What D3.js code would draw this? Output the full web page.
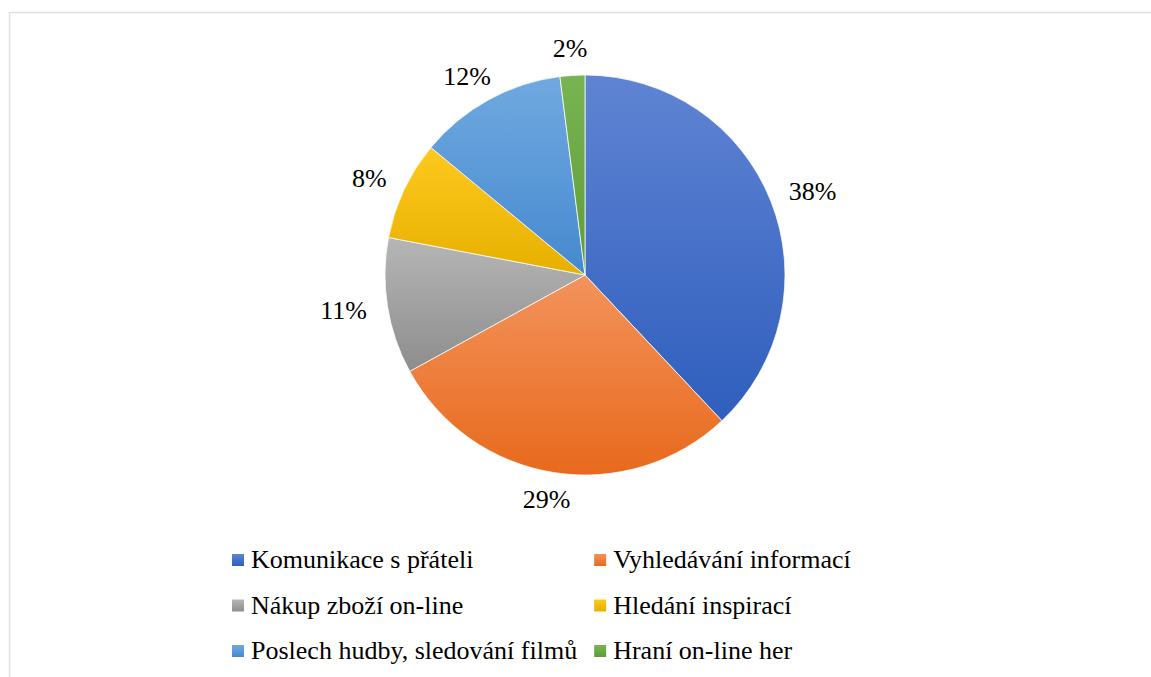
<!DOCTYPE html>
<html>
<head>
<meta charset="utf-8">
<script src="https://cdn.jsdelivr.net/npm/d3@7"></script>
</head>
<body style="margin:0;background:#fff">
<script>
const categories = [
  'Komunikace s přáteli',
  'Vyhledávání informací',
  'Nákup zboží on-line',
  'Hledání inspirací',
  'Poslech hudby, sledování filmů',
  'Hraní on-line her'
]
const values = [38, 29, 11, 8, 12, 2]
// light (top) and dark (bottom) end of each slice gradient
const topColors = ['#5f84d3', '#f3935c', '#b6b6b6', '#ffc81e', '#70a9e0', '#78b552']
const bottomColors = ['#2f5ebd', '#e8691c', '#8d8d8d', '#e6b000', '#4689cf', '#5e9c38']

const fullWidth = 1151
const fullHeight = 677
const cx = 585
const cy = 275
const radius = 200
const fontSize = 26
const serif = '"Liberation Serif"'

function draw() {
  const svg = d3.select('body')
    .append('svg')
    .attr('width', fullWidth)
    .attr('height', fullHeight)
    .style('display', 'block')
    .style('font-family', serif)

  // chart area frame
  svg.append('rect')
    .attr('x', 9.5)
    .attr('y', 12.5)
    .attr('width', 1160)
    .attr('height', 700)
    .attr('fill', '#fff')
    .attr('stroke', '#dde1e7')
    .attr('stroke-width', 1.5)

  const defs = svg.append('defs')
  categories.forEach((c, i) => {
    const grad = defs.append('linearGradient')
      .attr('id', 'grad' + i)
      .attr('x1', 0).attr('y1', 0)
      .attr('x2', 0).attr('y2', 1)
    grad.append('stop').attr('offset', '0%').attr('stop-color', topColors[i])
    grad.append('stop').attr('offset', '100%').attr('stop-color', bottomColors[i])
  })

  const pie = d3.pie().sort(null).value(d => d)
  const arcs = pie(values)
  const arc = d3.arc().innerRadius(0).outerRadius(radius)

  svg.append('g')
    .attr('transform', `translate(${cx},${cy})`)
    .selectAll('.slice')
    .data(arcs)
    .enter().append('path')
    .attr('class', 'slice')
    .attr('d', arc)
    .attr('fill', (d, i) => `url(#grad${i})`)
    .attr('stroke', '#fff')
    .attr('stroke-width', 0.75)

  // ---------------Data labels (outside end)---------------
  const pad = 15
  const labels = svg.selectAll('.lbl')
    .data(arcs)
    .enter().append('text')
    .attr('class', 'lbl')
    .attr('font-size', fontSize)
    .style('font-family', serif)
    .attr('text-anchor', 'middle')
    .text(d => d.value + '%')

  labels.each(function (d) {
    const w = this.getComputedTextLength() + 12
    const h = fontSize * 0.92
    const a = (d.startAngle + d.endAngle) / 2
    const dx = Math.sin(a)
    const dy = -Math.cos(a)
    d3.select(this)
      .attr('x', cx + (radius + pad) * dx + dx * w / 2)
      .attr('y', cy + (radius + pad) * dy + dy * h / 2 + fontSize * 0.33)
  })

  // ---------------Legend---------------
  const legendX = 232
  const legendY = 568
  const rowGap = 45.5
  const sq = 12
  const textGap = 19

  const items = svg.selectAll('.item')
    .data(categories)
    .enter().append('text')
    .attr('class', 'item')
    .attr('font-size', fontSize)
    .style('font-family', serif)
    .text(d => d)

  let colW = 0
  items.each(function () {
    colW = Math.max(colW, this.getComputedTextLength())
  })
  colW = colW + textGap + 17

  const colX = i => legendX + (i % 2) * colW
  const rowY = i => legendY + Math.floor(i / 2) * rowGap

  items
    .attr('x', (d, i) => colX(i) + textGap)
    .attr('y', (d, i) => rowY(i))

  svg.selectAll('.key')
    .data(categories)
    .enter().append('rect')
    .attr('class', 'key')
    .attr('x', (d, i) => colX(i))
    .attr('y', (d, i) => rowY(i) - sq - 2)
    .attr('width', sq)
    .attr('height', sq)
    .attr('fill', (d, i) => `url(#grad${i})`)
}

// wait for the serif face before measuring text
document.fonts.load(`${fontSize}px ${serif}`, 'Kř%').then(draw, draw)
</script>
</body>
</html>
